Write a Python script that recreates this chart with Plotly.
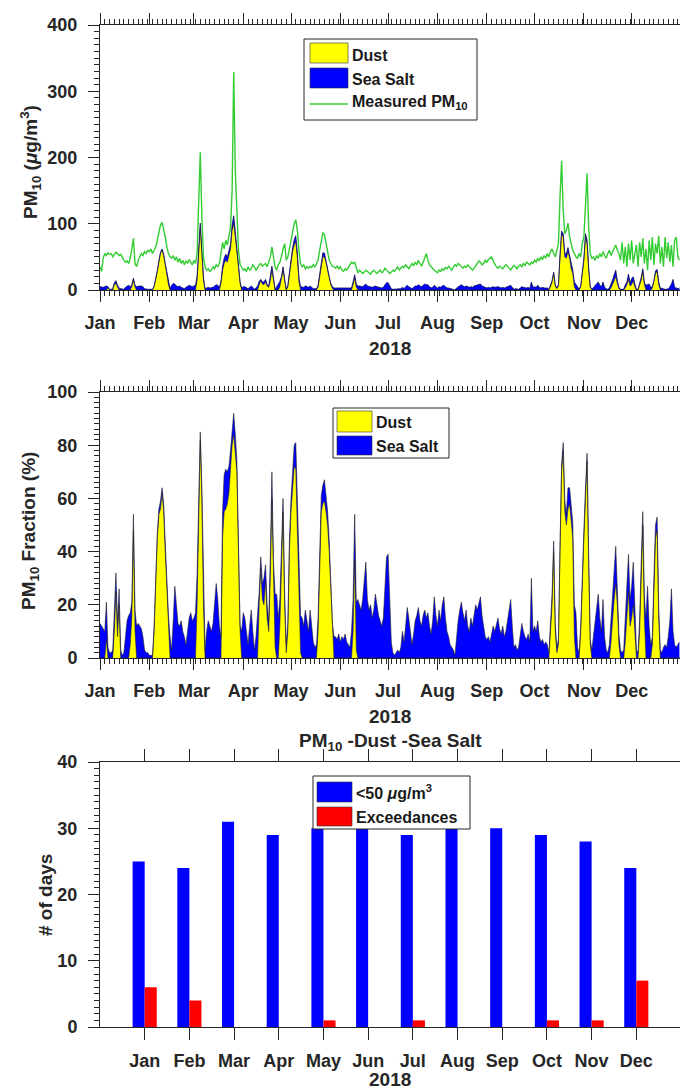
import pandas as pd
import plotly.graph_objects as go

# the page body adds an 8 px margin, so the figure is 8 px smaller and
# reference pixel coordinates are shifted by that offset
OFF = 8
W, H = 688 - OFF, 1091 - OFF

# ---- daily series for 2018 (one line per month) ----
pm10 = [
    35, 28, 48, 55, 52, 56, 54, 55, 50, 53, 57, 55, 52, 54, 48, 45, 42, 44, 40, 48, 62, 78, 40, 35, 45, 50, 55, 52, 58, 55, 60,
    58, 62, 55, 60, 65, 75, 88, 98, 102, 92, 80, 65, 55, 50, 48, 52, 45, 50, 42, 48, 40, 45, 38, 44, 40, 46, 42, 38,
    45, 40, 55, 120, 208, 110, 50, 35, 30, 32, 28, 30, 35, 32, 38, 35, 40, 55, 72, 62, 75, 68, 80, 95, 150, 329, 180, 131, 60, 38, 35,
    30, 32, 28, 35, 30, 32, 38, 35, 30, 33, 38, 40, 36, 38, 40, 35, 42, 50, 65, 48, 35, 30, 38, 42, 50, 62, 70, 45, 50, 62,
    75, 90, 100, 106, 90, 60, 40, 35, 38, 32, 35, 33, 36, 34, 38, 35, 40, 45, 60, 75, 86, 84, 70, 55, 45, 40, 36, 35, 33, 36, 32,
    35, 30, 28, 32, 30, 35, 38, 42, 40, 42, 32, 26, 30, 28, 25, 27, 30, 28, 26, 24, 28, 30, 27, 25, 28, 30, 26, 28, 33, 30,
    28, 25, 27, 30, 28, 32, 35, 30, 33, 36, 34, 38, 35, 32, 36, 40, 37, 42, 38, 45, 40, 36, 42, 50, 55, 45, 38, 35, 32, 30, 28,
    26, 30, 28, 32, 30, 34, 32, 36, 33, 30, 35, 38, 36, 40, 38, 35, 33, 36, 34, 38, 35, 32, 30, 33, 36, 40, 44, 42, 38, 40, 45,
    42, 46, 48, 50, 44, 38, 35, 33, 36, 34, 32, 35, 38, 36, 33, 30, 34, 37, 35, 32, 36, 38, 35, 40, 37, 42, 40, 38, 42, 40,
    45, 42, 48, 44, 50, 46, 52, 48, 55, 50, 58, 62, 55, 50, 60, 70, 140, 195, 120, 85, 90, 101, 80, 70, 60, 55, 50, 48, 55, 50, 70,
    80, 130, 176, 95, 55, 48, 50, 45, 52, 48, 55, 50, 58, 52, 48, 55, 60, 52, 58, 62, 68, 60, 55, 45, 72, 40, 65, 35, 70, 45,
    75, 40, 55, 68, 35, 72, 50, 78, 40, 62, 30, 75, 45, 80, 38, 70, 55, 82, 40, 65, 35, 80, 48, 72, 42, 68, 35, 75, 80, 50, 45,
]
dust = [
    0, 0, 0, 0, 0, 3, 0, 0, 0, 8, 10, 4, 0, 0, 0, 0, 0, 0, 0, 0, 5, 15, 4, 0, 0, 0, 0, 0, 0, 0, 0,
    0, 0, 0, 5, 15, 28, 42, 55, 60, 52, 38, 22, 8, 0, 0, 0, 0, 0, 0, 0, 0, 0, 0, 0, 0, 0, 0, 0,
    0, 0, 15, 60, 95, 55, 15, 0, 0, 0, 0, 0, 0, 0, 0, 0, 0, 10, 30, 40, 45, 42, 55, 62, 90, 100, 80, 60, 35, 10, 0,
    0, 0, 0, 0, 0, 0, 0, 0, 0, 0, 8, 14, 9, 8, 12, 6, 4, 14, 30, 15, 0, 0, 0, 5, 16, 30, 14, 0, 5, 25,
    40, 58, 68, 72, 48, 12, 0, 0, 0, 0, 0, 0, 0, 0, 0, 0, 0, 4, 20, 40, 50, 50, 42, 30, 18, 8, 2, 0, 0, 0, 0,
    0, 0, 0, 0, 0, 0, 0, 0, 8, 18, 4, 0, 0, 0, 0, 0, 0, 0, 0, 0, 0, 0, 0, 0, 0, 0, 0, 0, 0, 0,
    0, 0, 0, 0, 0, 0, 0, 0, 0, 0, 0, 0, 0, 0, 0, 0, 0, 0, 0, 0, 0, 0, 0, 0, 0, 0, 0, 0, 0, 0, 0,
    0, 0, 0, 0, 0, 0, 0, 0, 0, 0, 0, 0, 0, 0, 0, 0, 0, 0, 0, 0, 0, 0, 0, 0, 0, 0, 0, 0, 0, 0, 0,
    0, 0, 0, 0, 0, 0, 0, 0, 0, 0, 0, 0, 0, 0, 0, 0, 0, 0, 0, 0, 0, 0, 0, 0, 0, 0, 0, 0, 0, 0,
    0, 0, 0, 0, 0, 0, 0, 0, 0, 0, 5, 12, 25, 6, 2, 6, 50, 85, 80, 50, 48, 58, 48, 32, 25, 5, 0, 0, 0, 5, 25,
    45, 80, 70, 30, 4, 0, 0, 0, 0, 0, 0, 0, 0, 0, 0, 0, 0, 3, 8, 14, 20, 10, 2, 0, 0, 0, 3, 8, 16, 6,
    8, 14, 5, 0, 0, 6, 15, 28, 8, 0, 0, 0, 0, 3, 12, 25, 28, 8, 0, 0, 0, 0, 0, 0, 0, 0, 0, 0, 0, 0, 0,
]
sea_salt = [
    5, 4, 4, 5, 6, 2, 1, 1, 2, 3, 4, 3, 3, 2, 1, 1, 4, 6, 7, 5, 3, 3, 3, 5, 6, 6, 6, 5, 2, 1, 1,
    1, 1, 1, 1, 1, 1, 2, 2, 2, 2, 2, 3, 4, 2, 7, 10, 9, 6, 5, 6, 4, 3, 2, 4, 6, 7, 6, 5,
    6, 7, 6, 4, 6, 4, 4, 2, 3, 4, 3, 3, 4, 6, 8, 7, 4, 3, 6, 8, 9, 8, 7, 7, 8, 12, 8, 5, 3, 2, 3,
    5, 5, 3, 2, 4, 6, 4, 1, 3, 6, 5, 2, 3, 4, 4, 2, 2, 5, 6, 3, 1, 5, 9, 8, 4, 5, 3, 1, 2, 3,
    4, 6, 8, 10, 8, 6, 5, 5, 4, 6, 5, 4, 6, 4, 2, 2, 2, 3, 4, 5, 6, 6, 4, 2, 2, 2, 3, 3, 3, 3, 3,
    2, 2, 2, 3, 2, 2, 2, 3, 4, 5, 5, 6, 6, 5, 5, 7, 9, 6, 5, 5, 4, 5, 6, 5, 4, 4, 3, 4, 8, 11,
    11, 5, 2, 1, 1, 1, 1, 1, 2, 4, 2, 5, 7, 5, 4, 2, 4, 6, 6, 8, 6, 5, 7, 9, 8, 8, 5, 3, 4, 7, 5,
    3, 5, 4, 6, 7, 5, 3, 3, 2, 1, 1, 0, 3, 5, 7, 8, 6, 5, 6, 5, 4, 5, 4, 6, 7, 7, 9, 9, 6, 5, 4,
    3, 4, 3, 4, 5, 4, 5, 5, 4, 3, 4, 3, 4, 5, 6, 7, 4, 1, 2, 1, 1, 3, 5, 4, 3, 3, 4, 2, 12, 4,
    5, 4, 7, 4, 3, 4, 3, 3, 3, 1, 2, 2, 2, 2, 1, 2, 3, 4, 5, 5, 7, 6, 4, 8, 5, 7, 9, 5, 1, 1, 2,
    3, 5, 5, 4, 1, 1, 4, 6, 9, 12, 7, 5, 12, 4, 2, 1, 3, 5, 7, 9, 10, 4, 2, 1, 1, 1, 5, 4, 8, 5,
    9, 6, 4, 1, 1, 3, 4, 4, 3, 7, 8, 9, 4, 2, 2, 4, 3, 4, 3, 2, 1, 1, 1, 2, 5, 9, 16, 4, 3, 2, 3,
]
dust_pct = [
    0, 0, 0, 0, 7, 0, 0, 0, 0, 10, 25, 8, 20, 0, 0, 0, 0, 0, 0, 5, 15, 48, 10, 0, 0, 0, 0, 0, 0, 0, 0,
    0, 0, 0, 10, 30, 45, 54, 56, 62, 55, 40, 25, 10, 0, 0, 0, 0, 0, 0, 0, 0, 0, 0, 0, 0, 0, 0, 0,
    0, 0, 20, 60, 82, 60, 20, 0, 0, 0, 0, 0, 0, 0, 0, 0, 0, 0, 45, 55, 56, 58, 62, 70, 80, 84, 78, 70, 40, 10, 0,
    0, 0, 0, 0, 0, 0, 0, 0, 0, 0, 20, 34, 22, 20, 29, 15, 10, 30, 60, 30, 4, 0, 0, 12, 35, 55, 20, 2, 10, 40,
    55, 65, 72, 71, 50, 20, 2, 0, 0, 0, 0, 0, 0, 0, 0, 0, 0, 10, 35, 55, 58, 59, 55, 50, 40, 25, 8, 0, 0, 0, 0,
    0, 0, 0, 0, 0, 0, 0, 0, 10, 37, 3, 0, 0, 0, 0, 0, 0, 0, 0, 0, 0, 0, 0, 0, 0, 0, 0, 0, 0, 0,
    0, 0, 0, 0, 0, 0, 0, 0, 0, 0, 0, 0, 0, 0, 0, 0, 0, 0, 0, 0, 0, 0, 0, 0, 0, 0, 0, 0, 0, 0, 0,
    0, 0, 0, 0, 0, 0, 0, 0, 0, 0, 0, 0, 0, 0, 0, 0, 0, 0, 0, 0, 0, 0, 0, 0, 0, 0, 0, 0, 0, 0, 0,
    0, 0, 0, 0, 0, 0, 0, 0, 0, 0, 0, 0, 0, 0, 0, 0, 0, 0, 0, 0, 0, 0, 0, 0, 0, 0, 0, 0, 0, 0,
    0, 0, 0, 0, 0, 0, 0, 0, 0, 0, 10, 20, 40, 10, 2, 5, 40, 70, 78, 55, 50, 56, 58, 52, 45, 8, 0, 0, 0, 10, 30,
    45, 60, 74, 35, 5, 0, 0, 0, 0, 0, 0, 0, 0, 0, 0, 0, 0, 6, 15, 22, 28, 20, 5, 0, 0, 0, 6, 15, 25, 12,
    15, 20, 10, 0, 0, 10, 30, 50, 15, 0, 0, 0, 0, 5, 25, 45, 48, 15, 0, 0, 0, 0, 0, 0, 0, 0, 0, 0, 0, 0, 0,
]
salt_pct = [
    13, 12, 11, 10, 14, 4, 2, 2, 3, 6, 7, 5, 6, 3, 1, 2, 9, 14, 16, 12, 6, 6, 8, 12, 13, 12, 11, 8, 3, 2, 2,
    1, 1, 1, 2, 2, 2, 2, 3, 2, 3, 3, 4, 6, 8, 3, 14, 27, 20, 13, 12, 14, 10, 8, 5, 10, 15, 17, 14,
    15, 17, 12, 3, 3, 4, 8, 3, 10, 14, 12, 10, 13, 20, 28, 22, 12, 8, 10, 14, 15, 12, 10, 8, 6, 8, 6, 4, 3, 2, 10,
    17, 15, 10, 5, 12, 18, 10, 3, 8, 15, 5, 4, 6, 10, 6, 5, 4, 8, 10, 6, 20, 24, 15, 10, 8, 5, 4, 3, 3, 4,
    5, 6, 8, 10, 8, 10, 14, 15, 12, 18, 14, 10, 18, 12, 6, 4, 5, 5, 5, 6, 7, 8, 6, 5, 4, 4, 5, 8, 8, 7, 9,
    6, 8, 7, 9, 6, 5, 4, 10, 12, 17, 18, 22, 20, 18, 22, 28, 36, 22, 18, 20, 15, 18, 24, 20, 16, 14, 12, 15, 28, 38,
    39, 18, 6, 2, 1, 2, 3, 2, 4, 10, 6, 12, 19, 15, 10, 5, 9, 14, 16, 19, 14, 12, 16, 18, 15, 17, 12, 9, 14, 23, 16,
    12, 18, 14, 20, 23, 15, 10, 8, 5, 4, 3, 1, 8, 14, 18, 21, 17, 14, 18, 12, 10, 15, 12, 17, 20, 18, 21, 23, 16, 12, 8,
    7, 8, 6, 9, 12, 10, 13, 15, 11, 9, 12, 8, 10, 14, 18, 22, 12, 4, 5, 3, 4, 8, 13, 10, 8, 7, 9, 6, 30, 10,
    12, 10, 14, 8, 6, 7, 5, 6, 5, 2, 3, 4, 4, 3, 2, 2, 2, 3, 3, 4, 4, 8, 6, 6, 6, 12, 17, 4, 2, 2, 3,
    3, 4, 3, 4, 2, 3, 8, 12, 18, 24, 15, 10, 22, 8, 3, 2, 5, 8, 12, 14, 14, 6, 4, 3, 2, 3, 8, 10, 14, 10,
    12, 16, 8, 3, 2, 4, 6, 5, 8, 15, 27, 12, 5, 3, 6, 5, 5, 4, 3, 2, 4, 5, 4, 8, 14, 26, 10, 5, 4, 5, 6,
]

# ---- monthly day counts ----
months = ["Jan", "Feb", "Mar", "Apr", "May", "Jun", "Jul", "Aug", "Sep", "Oct", "Nov", "Dec"]
below_50 = [25, 24, 31, 29, 30, 30, 29, 31, 30, 29, 28, 24]
exceedances = [6, 4, 0, 0, 1, 0, 1, 0, 0, 1, 1, 7]

days = pd.date_range("2018-01-01", periods=365, freq="D")
for s in (pm10, dust, sea_salt, dust_pct, salt_pct):
    assert len(s) == 365, len(s)

INK = "#262626"
FONT = "Liberation Sans, Arial, sans-serif"
YELLOW, BLUE, RED, GREEN = "#ffff00", "#0000ff", "#ff0000", "#33cc33"
EDGE = dict(color="#202020", width=0.6)


def px(x):
    return (x - OFF) / W


def py(y):
    return 1 - (y - OFF) / H


fig = go.Figure()

# panel 1: concentrations
fig.add_trace(go.Scatter(x=days, y=dust, mode="lines", stackgroup="c", fillcolor=YELLOW,
                         line=EDGE, xaxis="x", yaxis="y", showlegend=False))
fig.add_trace(go.Scatter(x=days, y=sea_salt, mode="lines", stackgroup="c", fillcolor=BLUE,
                         line=dict(color="#101050", width=0.8), xaxis="x", yaxis="y", showlegend=False))
fig.add_trace(go.Scatter(x=days, y=pm10, mode="lines", line=dict(color=GREEN, width=1.4),
                         xaxis="x", yaxis="y", showlegend=False))

# panel 2: fractions
fig.add_trace(go.Scatter(x=days, y=dust_pct, mode="lines", stackgroup="f", fillcolor=YELLOW,
                         line=EDGE, xaxis="x2", yaxis="y2", showlegend=False))
fig.add_trace(go.Scatter(x=days, y=salt_pct, mode="lines", stackgroup="f", fillcolor=BLUE,
                         line=EDGE, xaxis="x2", yaxis="y2", showlegend=False))

# panel 3: day counts
month_pos = list(range(1, 13))
fig.add_trace(go.Bar(x=month_pos, y=below_50, width=0.27, offset=-0.27, marker_color=BLUE,
                     marker_line_width=0, xaxis="x3", yaxis="y3", showlegend=False))
fig.add_trace(go.Bar(x=month_pos, y=exceedances, width=0.27, offset=0, marker_color=RED,
                     marker_line_width=0, xaxis="x3", yaxis="y3", showlegend=False))

tickfont = dict(family=FONT, size=18, color=INK, weight="bold")
axis_common = dict(showline=True, linecolor=INK, linewidth=1, mirror="allticks", ticks="outside",
                   tickcolor=INK, tickwidth=1, showgrid=False, zeroline=False, tickfont=tickfont,
                   automargin=False)

xdom = [px(100), px(681)]
month_starts = pd.date_range("2018-01-01", periods=12, freq="MS")
date_axis = dict(axis_common, type="date", range=["2018-01-01", "2019-01-01"], tickmode="array",
                 tickvals=month_starts, ticktext=months, ticklen=11, ticklabelstandoff=5,
                 minor=dict(ticks="outside", ticklen=5, tickcolor=INK, dtick=3 * 86400000,
                            tick0="2018-01-01", showgrid=False))
ymin = lambda d: dict(ticks="outside", ticklen=5, dtick=d, tickcolor=INK)

fig.update_layout(
    width=W, height=H, margin=dict(l=0, r=0, t=0, b=0, autoexpand=False), autosize=False,
    paper_bgcolor="white", plot_bgcolor="white", barmode="overlay", showlegend=False,
    xaxis=dict(date_axis, domain=xdom, anchor="y"),
    yaxis=dict(axis_common, domain=[py(290), py(25)], range=[0, 400], dtick=100, ticklen=11,
               ticklabelstandoff=7, minor=ymin(10)),
    xaxis2=dict(date_axis, domain=xdom, anchor="y2"),
    yaxis2=dict(axis_common, domain=[py(658), py(392)], range=[0, 100], dtick=20, ticklen=11,
                ticklabelstandoff=7, minor=ymin(2)),
    xaxis3=dict(axis_common, domain=xdom, anchor="y3", range=[0, 13], tickmode="array",
                tickvals=month_pos, ticktext=months, ticklen=12, ticklabelstandoff=5),
    yaxis3=dict(axis_common, domain=[py(1027), py(762)], range=[0, 40], dtick=10, ticklen=11,
                ticklabelstandoff=7, minor=ymin(1)),
)

# axis titles
bold = dict(family=FONT, size=19, color=INK, weight="bold")
titles = [
    ("PM<sub>10</sub> (<i>μ</i>g/m<sup>3</sup>)", 31, 162, -90),
    ("PM<sub>10</sub> Fraction (%)", 30, 531, -90),
    ("# of days", 45, 895, -90),
    ("2018", 390, 348, 0),
    ("2018", 390, 716, 0),
    ("PM<sub>10</sub> -Dust -Sea Salt", 390, 742, 0),
    ("2018", 390, 1079, 0),
]
for text, x, y, ang in titles:
    fig.add_annotation(text=text, x=px(x), y=py(y), xref="paper", yref="paper", showarrow=False,
                       textangle=ang, font=bold, xanchor="center", yanchor="middle")

# hand-drawn legends (MATLAB style boxes)
legends = [
    dict(box=(304, 39, 477, 120), x0=310, x1=348, tx=350,
         items=[("patch", YELLOW, 43, 63, 55, "Dust"),
                ("patch", BLUE, 68, 88, 79, "Sea Salt"),
                ("line", GREEN, 104, 104, 102, "Measured PM<sub>10</sub>")]),
    dict(box=(333, 408, 449, 458), x0=337, x1=372, tx=374,
         items=[("patch", YELLOW, 411, 432, 422, "Dust"),
                ("patch", BLUE, 436, 455, 446, "Sea Salt")]),
    dict(box=(313, 776, 470, 829), x0=317, x1=352, tx=354,
         items=[("patch", BLUE, 782, 802, 792, "&lt;50 <i>μ</i>g/m<sup>3</sup>"),
                ("patch", RED, 807, 826, 817, "Exceedances")]),
]
legfont = dict(family=FONT, size=16, color="#1a1a1a", weight="bold")
for leg in legends:
    bx0, by0, bx1, by1 = leg["box"]
    fig.add_shape(type="rect", xref="paper", yref="paper", layer="above",
                  x0=px(bx0), x1=px(bx1), y0=py(by1), y1=py(by0),
                  fillcolor="white", line=dict(color=INK, width=1))
    for kind, color, y0, y1, ty, text in leg["items"]:
        if kind == "patch":
            fig.add_shape(type="rect", xref="paper", yref="paper", layer="above",
                          x0=px(leg["x0"]), x1=px(leg["x1"]), y0=py(y1), y1=py(y0),
                          fillcolor=color, line=dict(color="#303030", width=0.6))
        else:
            fig.add_shape(type="line", xref="paper", yref="paper", layer="above",
                          x0=px(leg["x0"]), x1=px(leg["x1"]), y0=py(y0), y1=py(y1),
                          line=dict(color=color, width=1.5))
        fig.add_annotation(text=text, x=px(leg["tx"]), y=py(ty), xref="paper", yref="paper",
                           showarrow=False, xanchor="left", yanchor="middle", font=legfont)

fig.write_html("out.html")
